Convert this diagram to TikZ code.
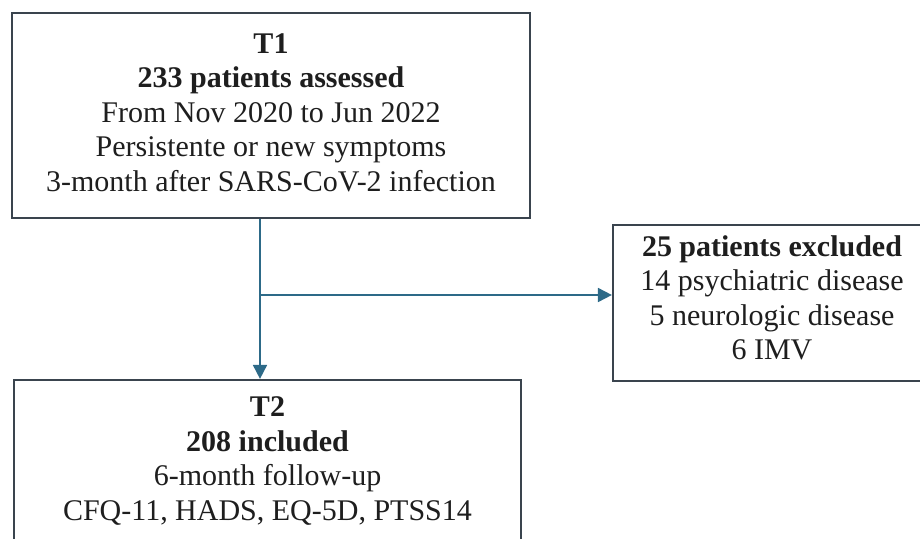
\documentclass[tikz,border=0pt]{standalone}
\usepackage{fontspec}
\setmainfont{Liberation Serif}
\usetikzlibrary{arrows.meta}
\definecolor{boxline}{HTML}{3A444E}
\definecolor{arrcol}{HTML}{2D6A88}
\definecolor{txt}{HTML}{1E1E1E}
\tikzset{
  boxnode/.style={draw=boxline, line width=2.2pt, fill=white, inner sep=0pt},
  boxtext/.style={align=center, text=txt, font=\fontsize{30}{34.5}\selectfont, inner sep=0pt},
  arr/.style={draw=arrcol, line width=1.8pt, -{Triangle[length=14pt,width=14pt]}},
}
\begin{document}
\begin{tikzpicture}[x=1pt,y=-1pt]
\useasboundingbox (0,0) rectangle (920,538);
\clip (0,0) rectangle (920,538);
\fill[white] (0,0) rectangle (920,538);
\node[boxnode, minimum width=518pt, minimum height=205pt] (t1) at (271,115.5) {};
\node[boxtext] (t1text) at ([yshift=3pt]t1.center)
  {\textbf{T1}\\ \textbf{233 patients assessed}\\ From Nov 2020 to Jun 2022\\ Persistente or new symptoms\\ 3-month after SARS-CoV-2 infection};
\node[boxnode, minimum width=318pt, minimum height=156pt] (ex) at (772,303) {};
\node[boxtext] (extext) at ([yshift=5pt]ex.center)
  {\textbf{25 patients excluded}\\ 14 psychiatric disease\\ 5 neurologic disease\\ 6 IMV};
\node[boxnode, minimum width=507pt, minimum height=170pt] (t2) at (267.5,465) {};
\node[boxtext] (t2text) at ([yshift=4pt]t2.center)
  {\textbf{T2}\\ \textbf{208 included}\\ 6-month follow-up\\ CFQ-11, HADS, EQ-5D, PTSS14};
\coordinate (j) at (260,295);
\draw[arr] (t1.south -| j) -- (t2.north -| j);
\draw[arr] (j) -- (ex.west |- j);
\end{tikzpicture}
\end{document}
